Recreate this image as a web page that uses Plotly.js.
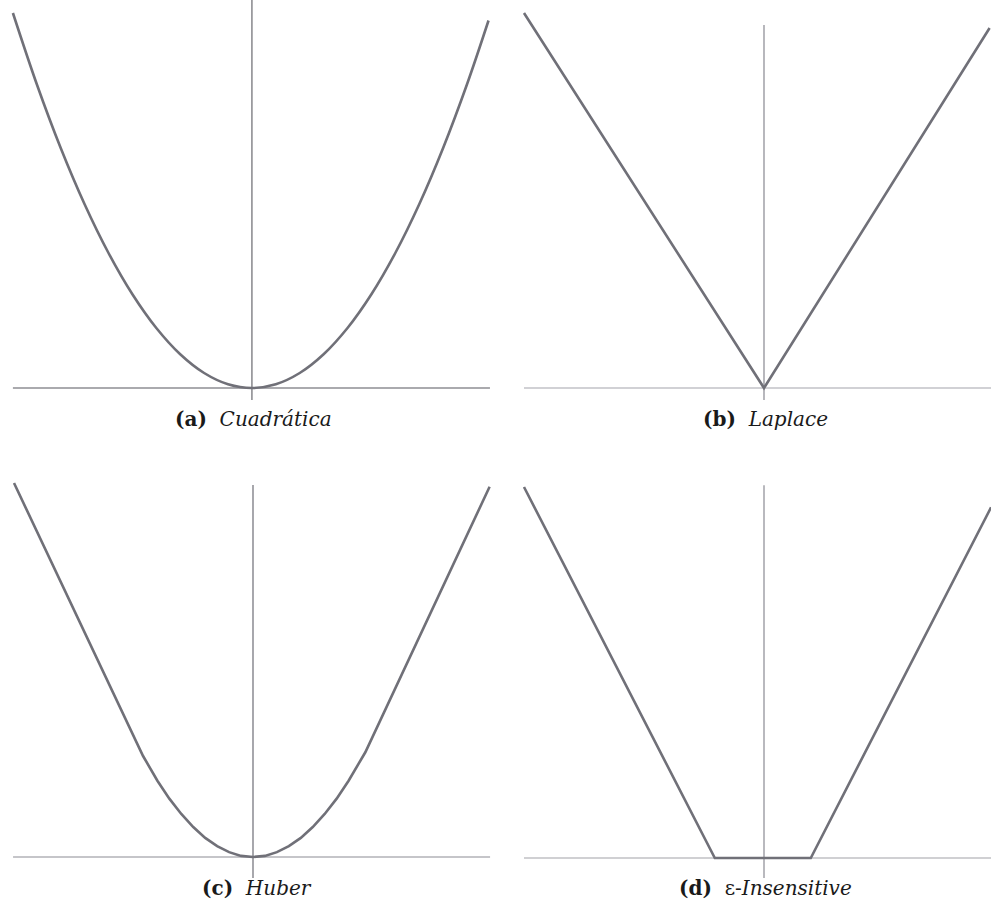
<!DOCTYPE html>
<html>
<head>
<meta charset="utf-8">
<script src="https://cdn.plot.ly/plotly-3.0.1.min.js"></script>
<style>
  html, body { margin: 0; padding: 0; background: #ffffff; }
  #chart { width: 991px; height: 918px; }
</style>
</head>
<body>
<div id="chart"></div>
<script>
// Loss functions: residual on x, loss on y
const quadX = [-1, -0.9, -0.8, -0.7, -0.6, -0.5, -0.4, -0.3, -0.2, -0.1, 0, 0.1, 0.2, 0.3, 0.4, 0.5, 0.6, 0.7, 0.8, 0.9, 0.99];
const quadY = [1, 0.81, 0.64, 0.49, 0.36, 0.25, 0.16, 0.09, 0.04, 0.01, 0, 0.01, 0.04, 0.09, 0.16, 0.25, 0.36, 0.49, 0.64, 0.81, 0.98];

const laplaceX = [-1, 0, 0.94];
const laplaceY = [1, 0, 0.96];

const huberX = [-1, -0.46, -0.4, -0.35, -0.3, -0.25, -0.2, -0.15, -0.1, -0.05, 0, 0.05, 0.1, 0.15, 0.2, 0.25, 0.3, 0.35, 0.4, 0.47, 0.99];
const huberY = [1, 0.27, 0.204, 0.156, 0.115, 0.080, 0.051, 0.029, 0.013, 0.003, 0, 0.003, 0.013, 0.029, 0.051, 0.080, 0.115, 0.156, 0.204, 0.28, 0.99];

const epsX = [-1, -0.205, 0.195, 0.946];
const epsY = [1, 0, 0, 0.945];

const captions = [
  '<b>(a)</b>  <i>Cuadrática</i>',
  '<b>(b)</b>  <i>Laplace</i>',
  '<b>(c)</b>  <i>Huber</i>',
  '<b>(d)</b>  ε-<i>Insensitive</i>'
];

const curveColor = 'rgb(112,112,120)';
const curveLine = { color: curveColor, width: 2.6 };

function curve(x, y, n, shape) {
  const s = n === 1 ? '' : String(n);
  return {
    type: 'scatter', mode: 'lines', x: x, y: y,
    xaxis: 'x' + s, yaxis: 'y' + s,
    line: Object.assign({ shape: shape || 'linear', smoothing: 1 }, curveLine),
    hoverinfo: 'skip', showlegend: false
  };
}

const data = [
  curve(quadX, quadY, 1, 'spline'),
  curve(laplaceX, laplaceY, 2),
  curve(huberX, huberY, 3),
  curve(epsX, epsY, 4)
];

function ax(domain, range) {
  return {
    domain: domain, range: range, fixedrange: true,
    showgrid: false, zeroline: false, showline: false,
    showticklabels: false, ticks: ''
  };
}

// Coordinate axes drawn as line segments in each panel
function hLine(n, x0, x1, color) {
  const s = n === 1 ? '' : String(n);
  return { type: 'line', xref: 'x' + s, yref: 'y' + s, x0: x0, x1: x1, y0: 0, y1: 0,
           line: { color: color, width: 1.6 }, layer: 'below' };
}
function vLine(n, y0, y1, color) {
  const s = n === 1 ? '' : String(n);
  return { type: 'line', xref: 'x' + s, yref: 'y' + s, x0: 0, x1: 0, y0: y0, y1: y1,
           line: { color: color, width: 1.6 }, layer: 'below' };
}

const shapes = [
  hLine(1, -1.0, 0.996, '#8e8e93'), vLine(1, -0.032, 1.035, '#8e8e93'),
  hLine(2, -1.0, 0.95, '#c2c2c7'),  vLine(2, -0.032, 0.968, '#a6a6ac'),
  hLine(3, -1.004, 0.992, '#b2b2b7'), vLine(3, -0.056, 0.995, '#929298'),
  hLine(4, -1.0, 0.95, '#c0c0c5'),  vLine(4, -0.054, 1.005, '#a8a8ae')
];

function caption(text, x, y) {
  return { text: text, xref: 'paper', yref: 'paper', x: x, y: y,
           xanchor: 'center', yanchor: 'middle', showarrow: false,
           font: { family: 'DejaVu Serif, Liberation Serif, serif', size: 20, color: '#1a1a1a' } };
}

const layout = {
  width: 991, height: 918,
  margin: { l: 0, r: 0, t: 0, b: 0 },
  paper_bgcolor: '#ffffff', plot_bgcolor: 'rgba(0,0,0,0)',
  showlegend: false,
  xaxis:  ax([0, 500 / 991], [-1.054, 1.038]),
  yaxis:  ax([513 / 918, 1], [-0.0453, 1.0347]),
  xaxis2: ax([510 / 991, 1], [-1.0583, 0.9458]),
  yaxis2: ax([513 / 918, 1], [-0.0453, 1.0347]),
  xaxis3: ax([0, 500 / 991], [-1.0586, 1.0335]),
  yaxis3: ax([33 / 918, 448 / 918], [-0.0749, 1.0348]),
  xaxis4: ax([510 / 991, 1], [-1.0583, 0.9458]),
  yaxis4: ax([33 / 918, 448 / 918], [-0.0728, 1.0458]),
  shapes: shapes,
  annotations: [
    caption(captions[0], 253 / 991, 1 - 419 / 918),
    caption(captions[1], 765 / 991, 1 - 419 / 918),
    caption(captions[2], 257 / 991, 1 - 888 / 918),
    caption(captions[3], 765 / 991, 1 - 888 / 918)
  ]
};

Plotly.newPlot('chart', data, layout, { displayModeBar: false, staticPlot: true });
</script>
</body>
</html>
